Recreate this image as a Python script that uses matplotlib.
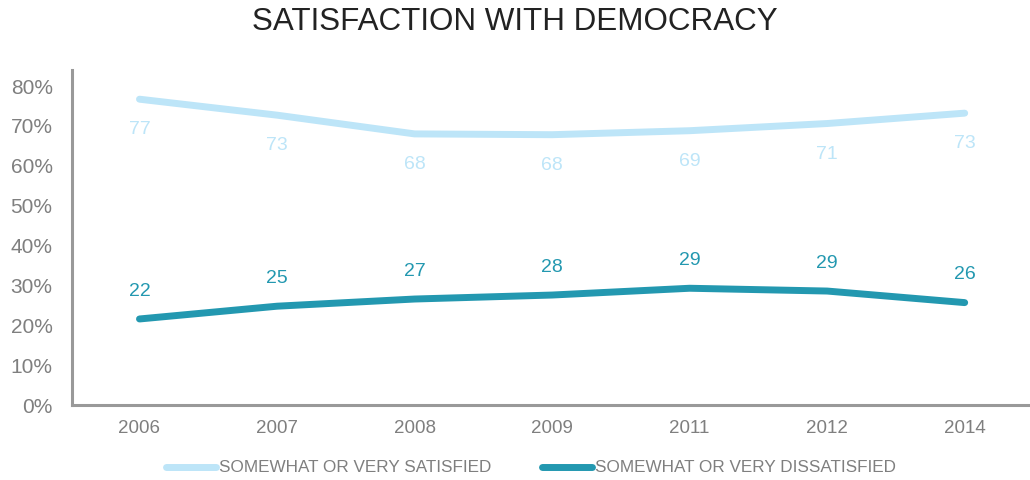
import numpy as np
import matplotlib.pyplot as plt

plt.rcParams['font.family'] = ['Liberation Sans', 'DejaVu Sans']

# survey years and shares (percent)
years = ['2006', '2007', '2008', '2009', '2011', '2012', '2014']
satisfied = [76.7, 72.7, 68.0, 67.8, 68.8, 70.6, 73.2]
dissatisfied = [21.6, 24.8, 26.6, 27.6, 29.3, 28.6, 25.7]
yticks = [0, 10, 20, 30, 40, 50, 60, 70, 80]

light = '#bde5f8'
teal = '#2398b0'
grey = '#7f7f7f'

fig = plt.figure(figsize=(10.3, 4.8), dpi=100)
ax = fig.add_axes([0.07, 0.156, 0.928, 0.698])
x = np.arange(len(years))

ax.plot(x, satisfied, color=light, lw=5, solid_capstyle='round',
        solid_joinstyle='round', label='SOMEWHAT OR VERY SATISFIED')
ax.plot(x, dissatisfied, color=teal, lw=5, solid_capstyle='round',
        solid_joinstyle='round', label='SOMEWHAT OR VERY DISSATISFIED')

for xi, v in zip(x, satisfied):
    ax.annotate(f'{round(v)}', (xi, v), xytext=(0, -22), textcoords='offset points',
                ha='center', va='center', fontsize=14, color=light)
for xi, v in zip(x, dissatisfied):
    ax.annotate(f'{round(v)}', (xi, v), xytext=(0, 20), textcoords='offset points',
                ha='center', va='center', fontsize=14, color=teal)

ax.set_xlim(-0.49, 6.46)
ax.set_ylim(0, 84)
ax.set_xticks(x)
ax.set_xticklabels(years)
ax.set_yticks(yticks)
ax.set_yticklabels([f'{t}%' for t in yticks])
ax.tick_params(axis='both', length=0, colors=grey)
ax.tick_params(axis='y', pad=14, labelsize=15)
ax.tick_params(axis='x', pad=11, labelsize=13.5)

for s in ['top', 'right']:
    ax.spines[s].set_visible(False)
for s in ['left', 'bottom']:
    ax.spines[s].set_color('#999999')
    ax.spines[s].set_linewidth(2.2)

fig.text(0.5, 0.955, 'SATISFACTION WITH DEMOCRACY', ha='center', va='center',
         fontsize=22.6, color='#222222')

leg = fig.legend(loc='center', bbox_to_anchor=(0.5155, 0.025), ncol=2, frameon=False,
                 fontsize=12.3, handlelength=2.9, handletextpad=0.17, columnspacing=3.0)
for t in leg.get_texts():
    t.set_color(grey)

fig.savefig('out.png', dpi=100)
